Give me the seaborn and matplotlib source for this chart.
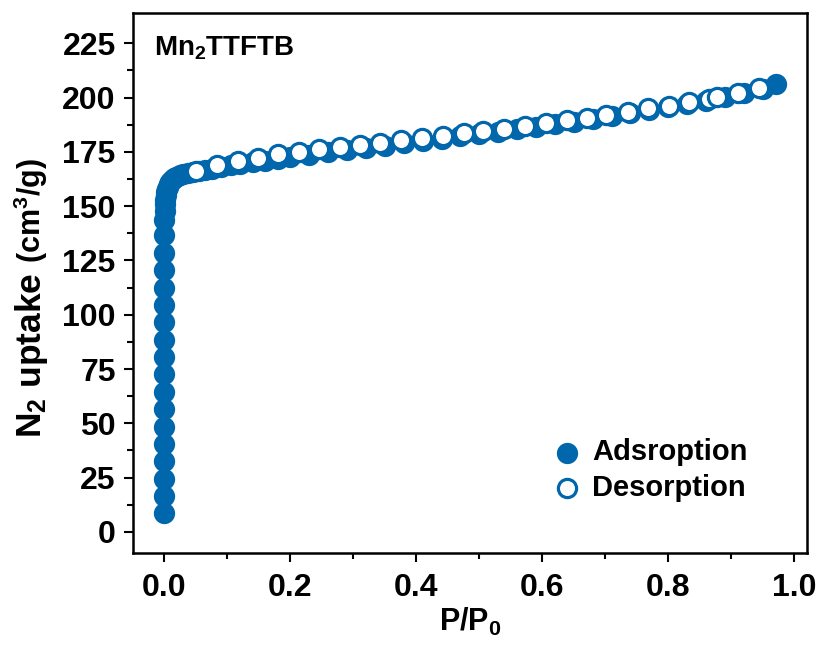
import matplotlib
matplotlib.use("Agg")
import matplotlib.pyplot as plt
import seaborn as sns
import pandas as pd

# ---- data ----
ads_x = [0.0, 0.0, 0.0, 0.0, 0.0, 0.0, 0.0, 0.0, 0.0, 0.0, 0.0, 0.0, 0.0, 0.0, 0.0, 0.0, 0.0, 0.0,
         0.0005, 0.001, 0.0015, 0.002, 0.003, 0.004, 0.005, 0.007, 0.009, 0.012, 0.015, 0.019,
         0.024, 0.030, 0.037, 0.045, 0.055, 0.065, 0.075, 0.09, 0.105, 0.12, 0.14, 0.16, 0.18,
         0.20, 0.23, 0.26, 0.29, 0.32, 0.35, 0.38, 0.41, 0.44, 0.47, 0.50, 0.53, 0.56, 0.59,
         0.62, 0.65, 0.68, 0.71, 0.74, 0.77, 0.80, 0.83, 0.86, 0.89, 0.92, 0.95, 0.972]
ads_y = [8.5, 16.5, 24.5, 32.5, 40.5, 48.5, 56.5, 64.5, 72.5, 80.5, 88.5, 96.5, 104.5, 112.5,
         120.5, 128.5, 136.5, 143.5,
         148.0, 151.0, 153.0, 155.0, 156.5, 158.0, 159.0, 160.0, 161.0, 162.0, 162.8, 163.5,
         164.2, 164.8, 165.3, 165.8, 166.3, 166.8, 167.3, 168.0, 168.8, 169.5, 170.3, 171.0, 171.8,
         172.6, 173.8, 174.9, 175.9, 176.9, 177.9, 178.9, 180.0, 181.0, 182.1, 183.2, 184.3, 185.4,
         186.6, 187.8, 189.0, 190.2, 191.5, 192.8, 194.2, 195.6, 197.1, 198.6, 200.2, 202.0, 204.0,
         206.5]
des_x = [0.050, 0.083, 0.116, 0.148, 0.180, 0.213, 0.246, 0.278, 0.310, 0.343, 0.376, 0.409,
         0.443, 0.475, 0.506, 0.540, 0.573, 0.606, 0.640, 0.671, 0.702, 0.736, 0.768, 0.801,
         0.833, 0.865, 0.878, 0.911, 0.944]
des_y = [166.2, 168.8, 170.8, 172.3, 173.9, 175.1, 176.3, 177.2, 178.3, 179.2, 180.3, 181.3,
         182.5, 183.6, 184.6, 185.5, 186.9, 188.2, 189.5, 190.6, 191.8, 193.6, 195.0, 196.2,
         198.0, 199.4, 200.1, 202.2, 204.3]
x_ticks = [0.0, 0.2, 0.4, 0.6, 0.8, 1.0]
y_ticks = [0, 25, 50, 75, 100, 125, 150, 175, 200, 225]
series_labels = ["Adsroption", "Desorption"]
sample_label = "Mn$_2$TTFTB"

ads = pd.DataFrame({"P/P0": ads_x, "uptake": ads_y})
des = pd.DataFrame({"P/P0": des_x, "uptake": des_y})

# ---- style ----
sns.set_theme(style="ticks")
plt.rcParams["font.family"] = ["Liberation Sans", "DejaVu Sans"]
plt.rcParams["font.weight"] = "bold"
plt.rcParams["text.color"] = "black"
plt.rcParams["axes.labelcolor"] = "black"
plt.rcParams["xtick.color"] = "black"
plt.rcParams["ytick.color"] = "black"
plt.rcParams["mathtext.fontset"] = "custom"
plt.rcParams["mathtext.rm"] = "Liberation Sans:bold"
plt.rcParams["mathtext.it"] = "Liberation Sans:bold"
plt.rcParams["mathtext.bf"] = "Liberation Sans:bold"
plt.rcParams["mathtext.default"] = "rm"

BLUE = "#0067AC"

fig = plt.figure(figsize=(8.21, 6.45), dpi=100)
ax = fig.add_axes([0.162, 0.1431, 0.8206, 0.8375])

sns.scatterplot(data=ads, x="P/P0", y="uptake", ax=ax, marker="o", s=235,
                color=BLUE, edgecolor=BLUE, linewidth=0, label=series_labels[0], zorder=2)
sns.scatterplot(data=des, x="P/P0", y="uptake", ax=ax, marker="o", s=172,
                facecolor="white", edgecolor=BLUE, linewidth=2.3, label=series_labels[1], zorder=3)

ax.set_xlim(-0.05, 1.02)
ax.set_ylim(-9.6, 239.2)
ax.set_xticks(x_ticks)
ax.set_xticklabels([f"{v:.1f}" for v in x_ticks])
ax.set_yticks(y_ticks)
ax.set_yticklabels([str(v) for v in y_ticks])
ax.set_xticks([0.1, 0.3, 0.5, 0.7, 0.9], minor=True)
ax.set_yticks([12.5 + 25 * i for i in range(9)], minor=True)

for sp in ax.spines.values():
    sp.set_visible(True)
    sp.set_linewidth(1.8)
    sp.set_color("black")
ax.tick_params(axis="both", which="major", direction="out", length=6.5, width=1.5,
               labelsize=23, colors="black")
ax.tick_params(axis="x", which="major", pad=8)
ax.tick_params(axis="y", which="major", pad=6)
ax.tick_params(axis="both", which="minor", direction="out", length=4, width=1.5, colors="black")
ax.tick_params(top=False, right=False, which="both")
for lab in ax.get_xticklabels() + ax.get_yticklabels():
    lab.set_fontweight("bold")

ax.set_xlabel("P/P$_0$", fontsize=22, fontweight="bold", labelpad=2)
ax.set_ylabel("")
# y label in two parts: main part and smaller unit part (with a small gap between)
ax.text(-0.137, 0.519, "N$_2$ uptake", transform=ax.transAxes, rotation=90,
        rotation_mode="anchor", ha="right", va="baseline", fontsize=25.5, fontweight="bold")
ax.text(-0.137, 0.537, "(cm$^3$/g)", transform=ax.transAxes, rotation=90,
        rotation_mode="anchor", ha="left", va="baseline", fontsize=22, fontweight="bold")

ax.text(0.031, 0.921, sample_label, transform=ax.transAxes, fontsize=20,
        fontweight="bold", ha="left", va="baseline")

leg = ax.legend(loc="center left", bbox_to_anchor=(0.623, 0.153), frameon=False,
                fontsize=21, handlelength=1.0, handletextpad=0.35, labelspacing=0.25,
                borderpad=0, borderaxespad=0)
for t in leg.get_texts():
    t.set_fontweight("bold")

fig.savefig("out.png", dpi=100)
